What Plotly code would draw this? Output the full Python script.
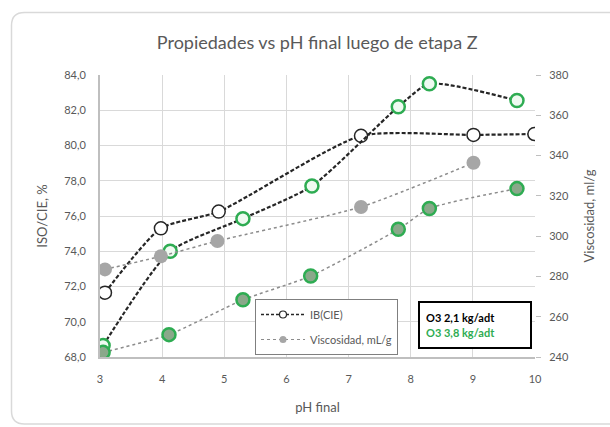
import plotly.graph_objects as go

# ---- data ----
ph_ib_21 = [3.08, 3.98, 4.91, 7.20, 9.01, 9.99]
ib_21 = [71.65, 75.3, 76.25, 80.55, 80.6, 80.65]

ph_ib_38 = [3.05, 4.13, 5.30, 6.41, 7.80, 8.30, 9.71]
ib_38 = [68.65, 74.0, 75.85, 77.7, 82.2, 83.5, 82.55]

ph_visc_21 = [3.08, 3.98, 4.89, 7.20, 9.01]
visc_21 = [283.5, 290.0, 297.6, 314.5, 336.4]

ph_visc_38 = [3.05, 4.11, 5.30, 6.39, 7.80, 8.30, 9.71]
visc_38 = [242.3, 251.1, 268.4, 280.2, 303.4, 313.7, 323.6]

x_ticks = [3, 4, 5, 6, 7, 8, 9, 10]
title = "Propiedades vs pH final luego de etapa Z"
legend_names = ["IB(CIE)", "Viscosidad, mL/g"]
dose_labels = ["O3 2,1 kg/adt", "O3 3,8 kg/adt"]

GREEN = "#2eac52"
DARK = "#262626"
GRAY = "#a6a6a6"
TXT = "#595959"
FONT = "Lato"
SM = 0.6

fig = go.Figure()

# IB series (dashed black lines)
fig.add_trace(go.Scatter(
    x=ph_ib_21, y=ib_21, mode="lines+markers", showlegend=False,
    line=dict(color=DARK, width=2.2, dash="4px,2px", shape="spline", smoothing=SM),
    marker=dict(symbol="circle", size=13, color="white", line=dict(color=DARK, width=1.5)),
))
fig.add_trace(go.Scatter(
    x=ph_ib_38, y=ib_38, mode="lines+markers", showlegend=False,
    line=dict(color=DARK, width=2.2, dash="4px,2px", shape="spline", smoothing=SM),
    marker=dict(symbol="circle", size=13, color="#effaf1", line=dict(color=GREEN, width=2.5)),
))
# Viscosity series (dotted gray lines) on right axis
fig.add_trace(go.Scatter(
    x=ph_visc_21, y=visc_21, mode="lines+markers", showlegend=False, yaxis="y2",
    line=dict(color="#8c8c8c", width=1.5, dash="dot", shape="spline", smoothing=SM),
    marker=dict(symbol="circle", size=14, color=GRAY, line=dict(color=GRAY, width=0)),
))
fig.add_trace(go.Scatter(
    x=ph_visc_38, y=visc_38, mode="lines+markers", showlegend=False, yaxis="y2",
    line=dict(color="#8c8c8c", width=1.5, dash="dot", shape="spline", smoothing=SM),
    marker=dict(symbol="circle", size=13, color="#8aa88a", line=dict(color=GREEN, width=2.5)),
))

# legend-only entries
fig.add_trace(go.Scatter(
    x=[None], y=[None], mode="lines+markers", name=legend_names[0], legendgroup="a",
    line=dict(color=DARK, width=1.5, dash="3px,2px"),
    marker=dict(symbol="circle", size=7, color="white", line=dict(color=DARK, width=1.2)),
))
fig.add_trace(go.Scatter(
    x=[None], y=[None], mode="lines+markers", name=legend_names[1], legendgroup="b",
    line=dict(color="#8c8c8c", width=1.2, dash="dot"),
    marker=dict(symbol="circle", size=7, color=GRAY),
))

# outer rounded frame (pixel -> paper conversion)
W, H = 610, 427
L, R, T, B = 100, 75, 75, 70
pw, ph = W - L - R, H - T - B
def px(xp):
    return (xp - L) / pw
def py(yp):
    return (H - B - yp) / ph
x0, x1, y0, y1, rr = 11.5, 640, 12.5, 424, 13
path = (f"M {px(x0)},{py(y0+rr)} Q {px(x0)},{py(y0)} {px(x0+rr)},{py(y0)} "
        f"L {px(x1)},{py(y0)} L {px(x1)},{py(y1)} L {px(x0+rr)},{py(y1)} "
        f"Q {px(x0)},{py(y1)} {px(x0)},{py(y1-rr)} Z")

fig.update_layout(
    width=W, height=H,
    margin=dict(l=L, r=R, t=T, b=B),
    paper_bgcolor="white", plot_bgcolor="white",
    separators=",.",
    font=dict(family=FONT, color=TXT, size=11),
    title=dict(text=title, x=0.52, xanchor="center", y=1 - 43 / H, yanchor="middle",
               font=dict(family=FONT, size=18, color=TXT)),
    shapes=[dict(type="path", path=path, xref="paper", yref="paper",
                 line=dict(color="#d9d9d9", width=1.5), layer="below")],
    xaxis=dict(range=[3, 10], tickvals=x_ticks, showgrid=True, gridcolor="#d9d9d9",
               gridwidth=1, showline=True, linecolor="#bfbfbf", linewidth=2,
               zeroline=False, ticks="", ticklabelstandoff=11, automargin=False,
               tickfont=dict(size=11, color=TXT),
               title=dict(text="pH final", font=dict(size=13, color=TXT), standoff=19)),
    yaxis=dict(range=[68, 84], dtick=2, tickformat=".1f", showgrid=True,
               gridcolor="#d9d9d9", gridwidth=1, showline=True, linecolor="#bfbfbf",
               linewidth=2, zeroline=False, ticks="", ticklabelstandoff=10,
               automargin=False, tickfont=dict(size=11, color=TXT),
               title=dict(text="ISO/CIE, %", font=dict(size=13, color=TXT), standoff=14)),
    yaxis2=dict(range=[240, 380], dtick=20, overlaying="y", side="right",
                showgrid=False, zeroline=False, showline=False, ticks="outside",
                ticklen=5, tickcolor="#bfbfbf", ticklabelstandoff=6, automargin=False,
                tickfont=dict(size=11, color=TXT),
                title=dict(text="Viscosidad, ml/g", font=dict(size=13, color=TXT), standoff=16)),
    legend=dict(x=px(255), y=py(299), xanchor="left", yanchor="top",
                bgcolor="white", bordercolor="#7f7f7f", borderwidth=1,
                font=dict(size=11, color=TXT), itemwidth=44, tracegroupgap=6,
                traceorder="grouped"),
    annotations=[dict(
        x=px(475), y=py(325), xref="paper", yref="paper",
        xanchor="center", yanchor="middle", showarrow=False, align="left",
        text=(f"<b>{dose_labels[0]}</b><br>"
              f"<span style='color:{GREEN}'><b>{dose_labels[1]}</b></span>"),
        font=dict(size=11, color="#000000"),
        bordercolor="#000000", borderwidth=2, borderpad=6, bgcolor="white",
        width=98, height=32,
    )],
)

fig.write_html("out.html", config={"displayModeBar": False},
               post_script="document.body.style.margin='0';")
